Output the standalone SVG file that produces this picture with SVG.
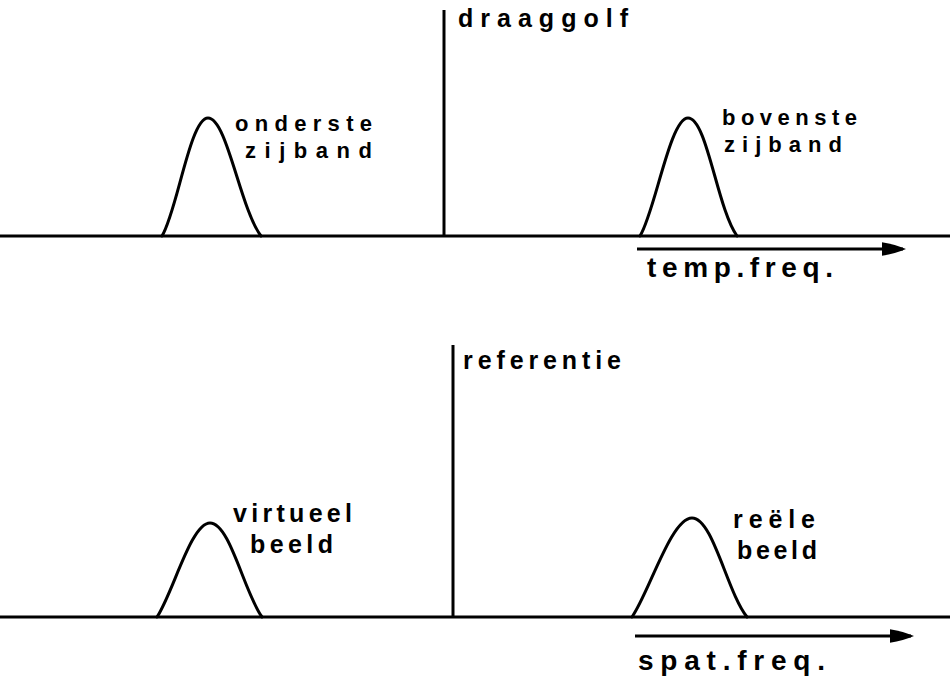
<svg xmlns="http://www.w3.org/2000/svg" width="950" height="680" viewBox="0 0 950 680">
<defs>
<marker id="ah" viewBox="0 0 16 10" refX="14" refY="5" markerWidth="8" markerHeight="5" orient="auto" markerUnits="strokeWidth">
<path d="M0,0.5 Q9,2 16,5 Q9,8 0,9.5 Z" fill="#000"/>
</marker>
<style>
.ln{stroke:#000;stroke-width:3;fill:none;stroke-linecap:round;stroke-linejoin:round}
.ax{stroke:#000;stroke-width:3;fill:none}
.t{font-family:"Liberation Sans",Arial,sans-serif;font-size:22px;font-weight:bold;fill:#000}
.b{font-size:25px}
.a{font-size:28px}
.h{font-size:25px}
</style>
</defs>
<rect width="950" height="680" fill="#fff"/>
<g id="connectors">
<line class="ax" x1="0" y1="236" x2="950" y2="236"/>
<line class="ax" x1="0" y1="617" x2="950" y2="617"/>
<line class="ax" x1="637" y1="249" x2="903" y2="249" marker-end="url(#ah)"/>
<line class="ax" x1="635" y1="636" x2="911" y2="636" marker-end="url(#ah)"/>
</g>
<g id="onderste">
<path class="ln" d="M162,236 C177,212 190,118 208,118 C227,118 240,208 261,236"/>
<text class="t" x="235" y="131" textLength="137" lengthAdjust="spacing">onderste</text>
<text class="t" x="245" y="158" textLength="127" lengthAdjust="spacing">zijband</text>
</g>
<g id="draaggolf">
<line class="ax" x1="444" y1="10" x2="444" y2="236"/>
<text class="t h" x="458" y="27" textLength="170" lengthAdjust="spacing">draaggolf</text>
</g>
<g id="bovenste">
<path class="ln" d="M640,236 C655,212 670,118 688,118 C707,118 717,208 737,236"/>
<text class="t" x="722" y="125" textLength="135" lengthAdjust="spacing">bovenste</text>
<text class="t" x="724" y="152" textLength="118" lengthAdjust="spacing">zijband</text>
</g>
<g id="temp">
<text class="t a" x="647" y="277" textLength="186" lengthAdjust="spacing">temp.freq.</text>
</g>
<g id="virtueel">
<path class="ln" d="M157,617 C173,593 191,523 210,523 C230,523 244,592 262,617"/>
<text class="t b" x="233" y="522" textLength="119" lengthAdjust="spacing">virtueel</text>
<text class="t b" x="250" y="553" textLength="83" lengthAdjust="spacing">beeld</text>
</g>
<g id="referentie">
<line class="ax" x1="453" y1="345" x2="453" y2="617"/>
<text class="t h" x="463" y="369" textLength="158" lengthAdjust="spacing">referentie</text>
</g>
<g id="reele">
<path class="ln" d="M632,617 C649,593 671,518 692,518 C713,518 727,592 747,617"/>
<text class="t b" x="733" y="528" textLength="82" lengthAdjust="spacing">reële</text>
<text class="t b" x="737" y="559" textLength="80" lengthAdjust="spacing">beeld</text>
</g>
<g id="spat">
<text class="t a" x="638" y="670" textLength="187" lengthAdjust="spacing">spat.freq.</text>
</g>
</svg>
